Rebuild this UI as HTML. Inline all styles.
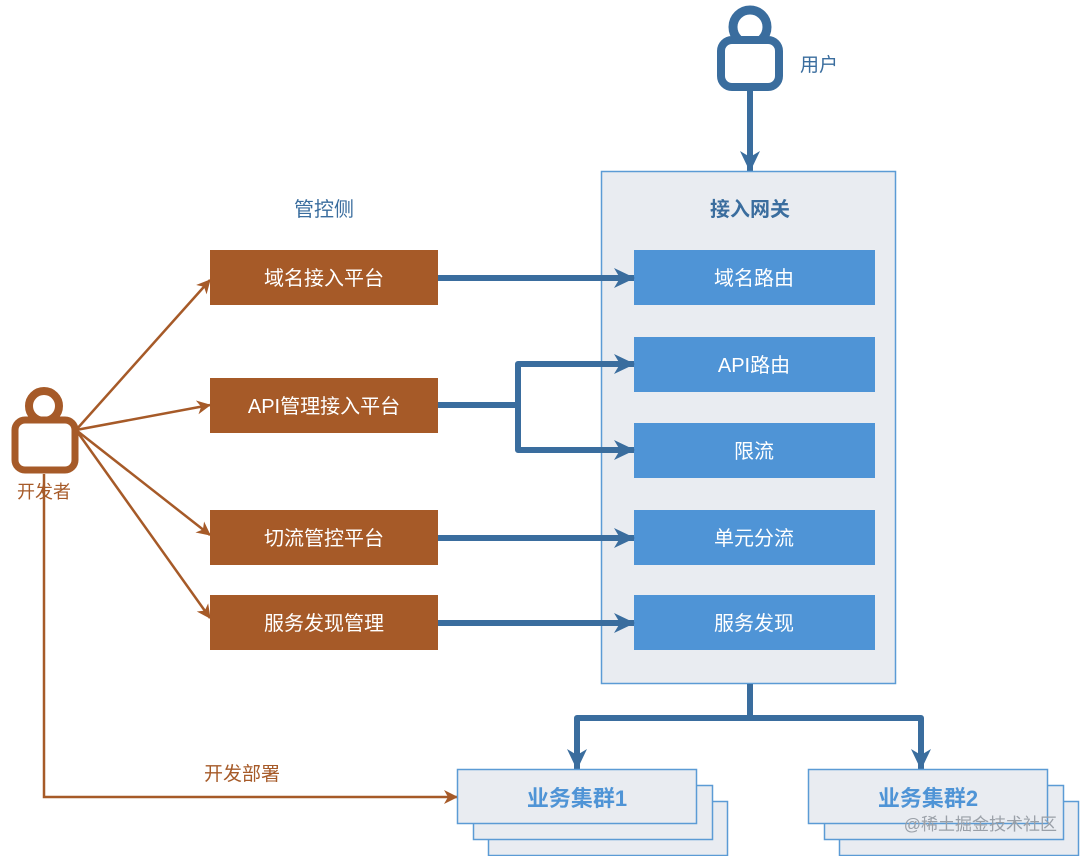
<!DOCTYPE html>
<html><head><meta charset="utf-8"><style>
html,body{margin:0;padding:0;background:#fff}
svg{display:block}
text{font-family:"Liberation Sans","Noto Sans CJK SC",sans-serif}
</style></head><body>
<svg width="1080" height="856" viewBox="0 0 1080 856" xmlns="http://www.w3.org/2000/svg">
<defs>
<marker id="ab" markerWidth="24" markerHeight="24" refX="20" refY="12" orient="auto" markerUnits="userSpaceOnUse">
<path d="M0,2 L21,12 L0,22 L6,12 Z" fill="#3a6d9e"/></marker>
<marker id="ao" markerWidth="16" markerHeight="16" refX="13" refY="8" orient="auto" markerUnits="userSpaceOnUse">
<path d="M0,1 L14,8 L0,15 L4,8 Z" fill="#a65a28"/></marker>
</defs>
<!-- user -->
<circle cx="750" cy="27" r="17" fill="none" stroke="#3a6d9e" stroke-width="9"/>
<rect x="721" y="40" width="58" height="47" rx="11" fill="#fff" stroke="#3a6d9e" stroke-width="8"/>
<text x="800" y="71" font-size="19" fill="#3a6d9e">用户</text>
<line x1="750" y1="91" x2="750" y2="171" stroke="#3a6d9e" stroke-width="6" marker-end="url(#ab)"/>
<!-- gateway -->
<rect x="601.5" y="171.5" width="294" height="512" fill="#e9ecf1" stroke="#5b9bd5" stroke-width="1.5"/>
<text x="750" y="216" font-size="20" fill="#3a6d9e" text-anchor="middle" font-weight="bold">接入网关</text>
<g fill="#4f94d6">
<rect x="634" y="250" width="241" height="55"/>
<rect x="634" y="337" width="241" height="55"/>
<rect x="634" y="423" width="241" height="55"/>
<rect x="634" y="510" width="241" height="55"/>
<rect x="634" y="595" width="241" height="55"/>
</g>
<g fill="#fff" font-size="20" text-anchor="middle">
<text x="754" y="285">域名路由</text>
<text x="754" y="372">API路由</text>
<text x="754" y="458">限流</text>
<text x="754" y="545">单元分流</text>
<text x="754" y="630">服务发现</text>
</g>
<text x="324" y="216" font-size="20" fill="#3a6d9e" text-anchor="middle">管控侧</text>
<g fill="#a65a28">
<rect x="210" y="250" width="228" height="55"/>
<rect x="210" y="378" width="228" height="55"/>
<rect x="210" y="510" width="228" height="55"/>
<rect x="210" y="595" width="228" height="55"/>
</g>
<g fill="#fff" font-size="20" text-anchor="middle">
<text x="324" y="285">域名接入平台</text>
<text x="324" y="413">API管理接入平台</text>
<text x="324" y="545">切流管控平台</text>
<text x="324" y="630">服务发现管理</text>
</g>
<g stroke="#3a6d9e" stroke-width="6" fill="none" stroke-linejoin="round">
<line x1="438" y1="278" x2="634" y2="278" marker-end="url(#ab)"/>
<line x1="438" y1="405" x2="518" y2="405"/>
<path d="M634,364 L518,364 L518,450 L634,450" marker-end="url(#ab)"/>
<line x1="518" y1="364" x2="634" y2="364" marker-end="url(#ab)"/>
<line x1="438" y1="538" x2="634" y2="538" marker-end="url(#ab)"/>
<line x1="438" y1="623" x2="634" y2="623" marker-end="url(#ab)"/>
<path d="M750,684 L750,718 L577,718 L577,769" marker-end="url(#ab)"/>
<path d="M750,718 L921,718 L921,769" marker-end="url(#ab)"/>
</g>
<!-- developer -->
<circle cx="44" cy="406" r="15" fill="none" stroke="#a65a28" stroke-width="8"/>
<rect x="15" y="420" width="60" height="50" rx="10" fill="#fff" stroke="#a65a28" stroke-width="7"/>
<text x="44" y="498" font-size="18" fill="#a65a28" text-anchor="middle">开发者</text>
<g stroke="#a65a28" stroke-width="2.5" fill="none">
<line x1="76" y1="430" x2="210" y2="280" marker-end="url(#ao)"/>
<line x1="76" y1="430" x2="210" y2="405" marker-end="url(#ao)"/>
<line x1="76" y1="430" x2="210" y2="535" marker-end="url(#ao)"/>
<line x1="76" y1="430" x2="210" y2="618" marker-end="url(#ao)"/>
<path d="M44,474 L44,797 L457,797" marker-end="url(#ao)"/>
</g>
<text x="242" y="780" font-size="19" fill="#a65a28" text-anchor="middle">开发部署</text>
<!-- clusters -->
<g fill="#e9ecf1" stroke="#5b9bd5" stroke-width="1.5">
<rect x="488.5" y="801.5" width="239" height="54"/>
<rect x="473.5" y="785.5" width="239" height="54"/>
<rect x="457.5" y="769.5" width="239" height="54"/>
<rect x="839.5" y="801.5" width="239" height="54"/>
<rect x="824.5" y="785.5" width="239" height="54"/>
<rect x="808.5" y="769.5" width="239" height="54"/>
</g>
<text x="577" y="806" font-size="22" fill="#4f94d6" text-anchor="middle" font-weight="bold">业务集群1</text>
<text x="928" y="806" font-size="22" fill="#4f94d6" text-anchor="middle" font-weight="bold">业务集群2</text>
<text x="1057" y="830" font-size="17" fill="#9aa0a8" text-anchor="end">@稀土掘金技术社区</text>
</svg>
</body></html>
